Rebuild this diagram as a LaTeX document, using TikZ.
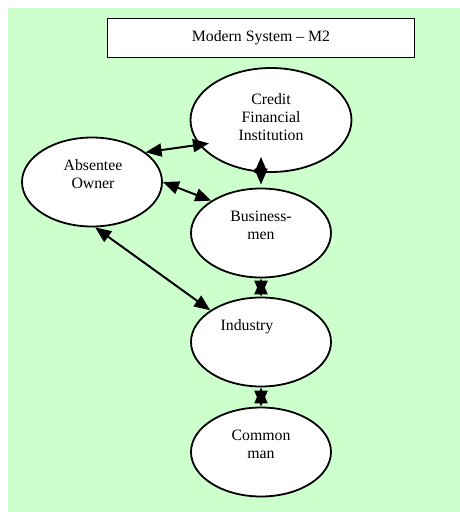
\documentclass[tikz,border=0pt]{standalone}
\usepackage{fontspec}
\setmainfont{Liberation Serif}
\usepackage{tikz}
\usetikzlibrary{positioning}
\usetikzlibrary{shapes.geometric}
\usetikzlibrary{arrows.meta}
\definecolor{bggreen}{RGB}{204,255,204}

\begin{document}
\begin{tikzpicture}[x=1pt, y=-1pt,
        every node/.style={font=\fontsize{15.8}{18}\selectfont},
        bubble/.style={draw, ellipse, fill=white, line width=1.8pt, minimum width=140pt, minimum height=89pt, inner sep=0pt},
        caption/.style={align=center, inner sep=0pt},
        link/.style={{Triangle[length=16pt,width=13pt]}-{Triangle[length=16pt,width=13pt]}, line width=2pt}]

                \useasboundingbox (0,0) rectangle (460,512);
                \fill[bggreen] (8,8) rectangle (460,512);

                % Nodes
                \node at (261,38) (title) [draw, fill=white, line width=1.5pt, minimum width=307pt, minimum height=39pt] {Modern System -- M2};
                \node at (271,120) (cred) [bubble, minimum width=161pt, minimum height=104pt] {};
                \node at (92,182) (owner) [bubble] {};
                \node at (261,233) (busi) [bubble] {};
                \node at (261,342) (ind) [bubble] {};
                \node at (261,452) (comm) [bubble] {};

                % Labels inside the bubbles
                \node at (271,117) (cred-txt) [caption] {Credit\\Financial\\Institution};
                \node at (93,174) (owner-txt) [caption] {Absentee\\Owner};
                \node at (261,225) (busi-txt) [caption] {Business-\\men};
                \node at (247,327) (ind-txt) [caption] {Industry};
                \node at (261,444) (comm-txt) [caption] {Common\\man};

                % Arrows
                \draw[link, shorten >=-10pt] (owner.29) -- (cred.199);
                \draw[link] (owner.east) -- (busi.147);
                \draw[link] (owner.-86) -- (ind.148);
                \draw[link, shorten <=3pt, shorten >=-16pt] (busi.north) -- (busi.north |- cred.south);
                \draw[link] (busi) -- (ind);
                \draw[link] (ind) -- (comm);

\end{tikzpicture}
\end{document}
